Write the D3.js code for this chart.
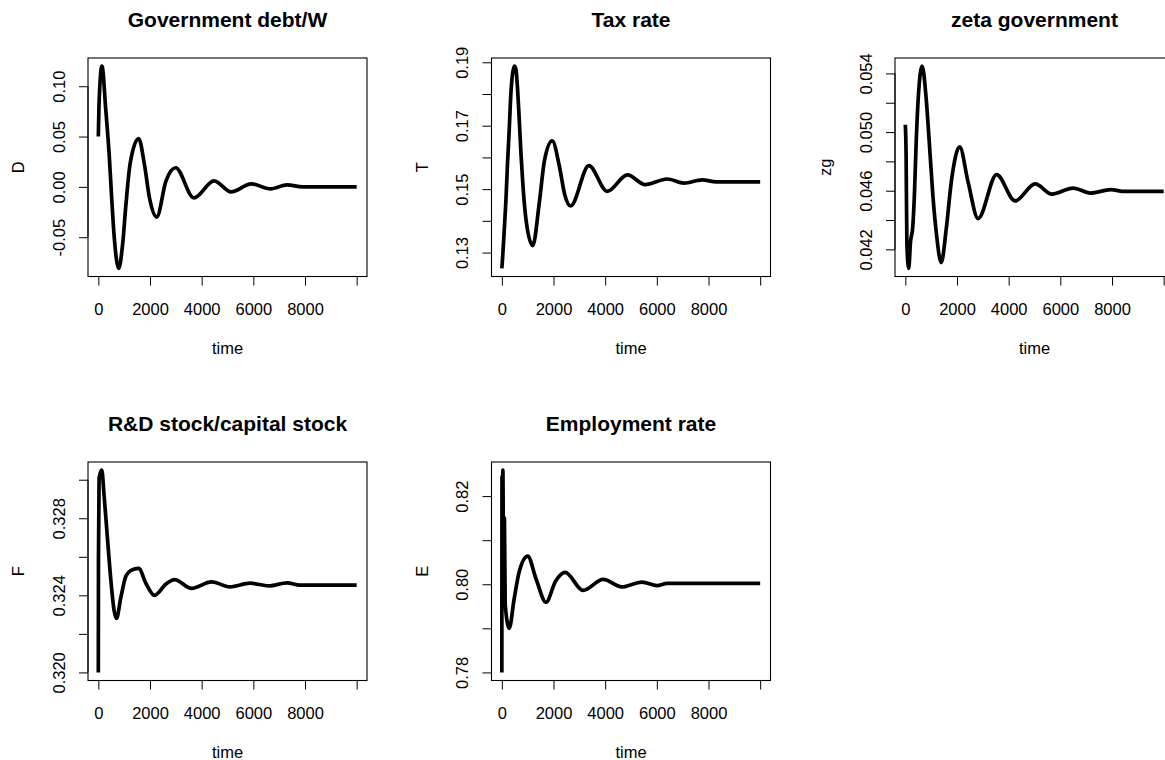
<!DOCTYPE html>
<html><head><meta charset="utf-8">
<script src="https://cdn.jsdelivr.net/npm/d3@7"></script>
<style>body{margin:0;background:#fff}svg{display:block}</style>
</head><body><svg id="c" width="1165" height="760"></svg>
<script>
// ---- shared x axis ----
const timeTicks = [0, 2000, 4000, 6000, 8000, 10000];
const timeTickLabels = ["0", "2000", "4000", "6000", "8000", ""];
const timeRange = [0, 10000];

// ---- Government debt/W ----
const debtTime   = [0, 25, 140, 290, 420, 510, 615, 790, 940, 1070, 1230, 1560, 1780, 1980, 2260, 2620, 2990, 3700, 4480, 5140, 5920, 6660, 7310, 7900, 10000];
const debtValues = [0.050, 0.081, 0.120, 0.076, 0.032, -0.008, -0.050, -0.081, -0.057, -0.017, 0.023, 0.048, 0.023, -0.011, -0.030, 0.006, 0.019, -0.011, 0.006, -0.005, 0.003, -0.002, 0.002, 0.000, 0.000];
const debtTicks = [-0.05, 0.00, 0.05, 0.10];
const debtTickLabels = ["-0.05", "0.00", "0.05", "0.10"];

// ---- Tax rate ----
const taxTime   = [0, 27, 90, 156, 219, 285, 350, 417, 490, 546, 611, 676, 741, 806, 871, 950, 1196, 1455, 1650, 1950, 2235, 2430, 2665, 3370, 4080, 4860, 5550, 6400, 7050, 7760, 8300, 10000];
const taxValues = [0.125, 0.128, 0.1366, 0.1461, 0.1579, 0.1685, 0.1801, 0.1865, 0.1888, 0.1877, 0.1813, 0.1717, 0.1611, 0.1526, 0.1455, 0.1395, 0.1322, 0.146, 0.159, 0.1652, 0.1569, 0.1484, 0.1447, 0.1574, 0.1493, 0.1545, 0.1514, 0.1532, 0.1519, 0.1529, 0.1523, 0.1523];
const taxTicks = [0.13, 0.14, 0.15, 0.16, 0.17, 0.18, 0.19];
const taxTickLabels = ["0.13", "", "0.15", "", "0.17", "", "0.19"];

// ---- zeta government ----
const zetaTime   = [0, 30, 60, 130, 200, 286, 351, 416, 506, 650, 806, 935, 1065, 1195, 1390, 1584, 1779, 2103, 2428, 2818, 3533, 4250, 5026, 5676, 6494, 7168, 7948, 8500, 10000];
const zetaValues = [0.0505, 0.0484, 0.0424, 0.0407, 0.0425, 0.0435, 0.0457, 0.0491, 0.0525, 0.0545, 0.0523, 0.0491, 0.0457, 0.0432, 0.0411, 0.0434, 0.0466, 0.0490, 0.0466, 0.0441, 0.0471, 0.0453, 0.04646, 0.04577, 0.04618, 0.04584, 0.04607, 0.04595, 0.04595];
const zetaTicks = [0.042, 0.044, 0.046, 0.048, 0.050, 0.052, 0.054];
const zetaTickLabels = ["0.042", "", "0.046", "", "0.050", "", "0.054"];

// ---- R&D stock/capital stock ----
const rdTime   = [0, 5, 30, 133, 222, 351, 484, 612, 702, 873, 1068, 1264, 1560, 1849, 2173, 2629, 2952, 3604, 4384, 5097, 5877, 6600, 7308, 7800, 10000];
const rdValues = [0.3200, 0.3259, 0.3301, 0.3305, 0.3292, 0.3270, 0.3248, 0.3232, 0.3228, 0.3239, 0.3250, 0.3253, 0.3254, 0.3246, 0.3240, 0.3246, 0.32482, 0.32436, 0.3247, 0.32444, 0.32463, 0.32449, 0.32465, 0.32453, 0.32453];
const rdTicks = [0.320, 0.322, 0.324, 0.326, 0.328, 0.330];
const rdTickLabels = ["0.320", "", "0.324", "", "0.328", ""];

// ---- Employment rate ----
const empTime   = [0, 8, 20, 40, 70, 100, 130, 285, 480, 675, 1000, 1326, 1710, 2080, 2450, 3145, 3925, 4642, 5423, 6008, 6400, 10000];
const empValues = [0.780, 0.8245, 0.8005, 0.8259, 0.8005, 0.815, 0.7955, 0.7900, 0.7968, 0.8029, 0.8064, 0.8012, 0.7959, 0.8007, 0.8027, 0.7986, 0.8011, 0.7994, 0.8005, 0.7997, 0.8002, 0.8002];
const empTicks = [0.78, 0.79, 0.80, 0.81, 0.82];
const empTickLabels = ["0.78", "", "0.80", "", "0.82"];

const panels = [
  {title: "Government debt/W", ylab: "D", t: debtTime, v: debtValues, ticks: debtTicks, labels: debtTickLabels},
  {title: "Tax rate", ylab: "T", t: taxTime, v: taxValues, ticks: taxTicks, labels: taxTickLabels},
  {title: "zeta government", ylab: "zg", t: zetaTime, v: zetaValues, ticks: zetaTicks, labels: zetaTickLabels},
  {title: "R&D stock/capital stock", ylab: "F", t: rdTime, v: rdValues, ticks: rdTicks, labels: rdTickLabels},
  {title: "Employment rate", ylab: "E", t: empTime, v: empValues, ticks: empTicks, labels: empTickLabels}
];

const svg = d3.select("#c");
const FONT = "'Liberation Sans', Arial, sans-serif";
const boxW = 279, boxH = 218.5, TICK = 9;

function pad(ext) { const r = ext[1] - ext[0]; return [ext[0] - 0.04 * r, ext[1] + 0.04 * r]; }

panels.forEach((p, i) => {
  const col = i % 3, row = Math.floor(i / 3);
  const L = 88 + col * 403.5, T = 58 + row * 404;
  const g = svg.append("g").attr("transform", `translate(${L},${T})`);
  const x = d3.scaleLinear().domain(pad(timeRange)).range([0, boxW]);
  const y = d3.scaleLinear().domain(pad(d3.extent(p.v))).range([boxH, 0]);

  // data line
  const line = d3.line().x((d, k) => x(p.t[k])).y(d => y(d)).curve(d3.curveMonotoneX);
  g.append("path").datum(p.v).attr("d", line)
    .attr("fill", "none").attr("stroke", "#000").attr("stroke-width", 3.7)
    .attr("stroke-linejoin", "round").attr("stroke-linecap", "butt");

  // box
  g.append("rect").attr("x", 0).attr("y", 0).attr("width", boxW).attr("height", boxH)
    .attr("fill", "none").attr("stroke", "#000").attr("stroke-width", 1.1);

  // x axis
  const xa = d3.axisBottom(x).tickValues(timeTicks).tickSize(TICK).tickFormat((d, k) => timeTickLabels[k]);
  const gx = g.append("g").attr("transform", `translate(0,${boxH})`).call(xa);
  gx.select(".domain").attr("d", `M${x(timeTicks[0])},0H${x(timeTicks[timeTicks.length - 1])}`).attr("stroke", "#000");
  gx.selectAll(".tick line").attr("stroke", "#000");
  gx.selectAll(".tick text").attr("y", 38).attr("dy", null)
    .attr("font-family", FONT).attr("font-size", 16.5).attr("fill", "#000");

  // y axis
  const ya = d3.axisLeft(y).tickValues(p.ticks).tickSize(TICK).tickFormat((d, k) => p.labels[k]);
  const gy = g.append("g").call(ya);
  gy.select(".domain").attr("d", `M0,${y(p.ticks[0])}V${y(p.ticks[p.ticks.length - 1])}`).attr("stroke", "#000");
  gy.selectAll(".tick line").attr("stroke", "#000");
  gy.selectAll(".tick text")
    .attr("x", null).attr("dy", null)
    .attr("transform", "translate(-23.5,0) rotate(-90)")
    .attr("text-anchor", "middle")
    .attr("font-family", FONT).attr("font-size", 16.5).attr("fill", "#000");

  // labels
  g.append("text").attr("x", boxW / 2).attr("y", -31).attr("text-anchor", "middle")
    .attr("font-family", FONT).attr("font-weight", "bold").attr("font-size", 21).attr("fill", "#000")
    .text(p.title);
  g.append("text").attr("x", boxW / 2).attr("y", boxH + 77).attr("text-anchor", "middle")
    .attr("font-family", FONT).attr("font-size", 16.5).attr("fill", "#000").text("time");
  g.append("text").attr("transform", `translate(-64,${boxH / 2}) rotate(-90)`).attr("text-anchor", "middle")
    .attr("font-family", FONT).attr("font-size", 16.5).attr("fill", "#000").text(p.ylab);
});
</script></body></html>
